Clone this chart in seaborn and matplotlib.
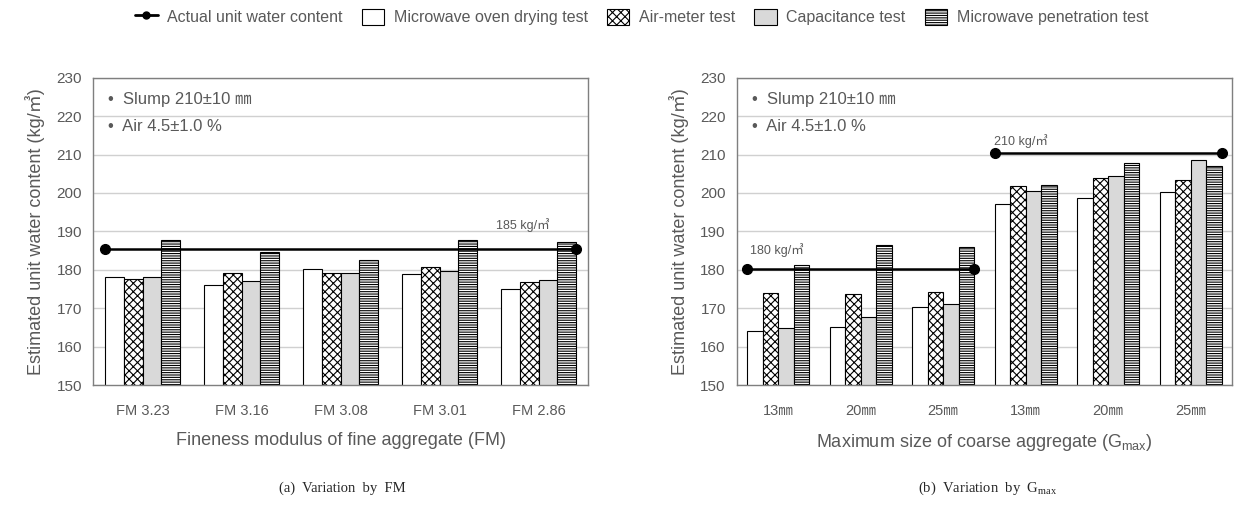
import numpy as np
import pandas as pd
import matplotlib
matplotlib.use('Agg')
import matplotlib.pyplot as plt
import seaborn as sns
from matplotlib.lines import Line2D
from matplotlib.patches import Patch

# Data
tests = ['Microwave oven drying test', 'Air-meter test', 'Capacitance test', 'Microwave penetration test']

fm_labels = ['FM 3.23', 'FM 3.16', 'FM 3.08', 'FM 3.01', 'FM 2.86']
fm_oven = [178.0, 176.0, 180.2, 179.0, 175.0]
fm_air = [177.5, 179.2, 179.2, 180.7, 176.7]
fm_cap = [178.2, 177.0, 179.2, 179.7, 177.3]
fm_pen = [187.7, 184.5, 182.5, 187.7, 187.2]
fm_actual = 185.5

g_labels = ['13㎜', '20㎜', '25㎜', '13㎜', '20㎜', '25㎜']
g_oven = [164.0, 165.2, 170.2, 197.0, 198.8, 200.3]
g_air = [174.0, 173.8, 174.3, 201.8, 203.8, 203.5]
g_cap = [164.8, 167.8, 171.0, 200.5, 204.3, 208.5]
g_pen = [181.3, 186.5, 186.0, 202.0, 207.8, 207.0]
g_actual_low = 180.3
g_actual_high = 210.3

colors = ['white', 'white', '#d9d9d9', 'white']
hatches = ['', 'xxxx', '', '-------']
grey = '#595959'
bar_w = 0.75

sns.set_style('white')
plt.rcParams['font.family'] = ['Liberation Sans', 'Noto Sans CJK KR', 'DejaVu Sans']
plt.rcParams['hatch.linewidth'] = 0.8


def long_table(labels, series):
    rows = []
    for i, lab in enumerate(labels):
        for t, vals in zip(tests, series):
            rows.append({'cat': f'c{i}', 'test': t, 'value': vals[i]})
    return pd.DataFrame(rows)


def draw(ax, labels, series):
    df = long_table(labels, series)
    sns.barplot(data=df, x='cat', y='value', hue='test', hue_order=tests,
                palette=colors, width=bar_w, gap=0, edgecolor='black',
                linewidth=0.8, legend=False, ax=ax, zorder=2)
    for cont, h in zip(ax.containers, hatches):
        for p in cont:
            p.set_hatch(h)
    ax.set_ylim(150, 230)
    ax.set_yticks(np.arange(150, 231, 10))
    ax.set_xticks(range(len(labels)))
    ax.set_xticklabels(labels)
    ax.set_xlim(-0.5, len(labels) - 0.5)
    ax.yaxis.grid(True, color='#d0d0d0', linewidth=1, zorder=0)
    ax.set_axisbelow(True)
    for s in ax.spines.values():
        s.set_color('#7f7f7f')
        s.set_linewidth(1)
    ax.tick_params(axis='x', length=0, pad=14, labelsize=10.5, labelcolor=grey)
    ax.tick_params(axis='y', length=0, pad=8, labelsize=11, labelcolor=grey)
    ax.set_ylabel('Estimated unit water content (kg/㎥)', fontsize=13, color=grey, labelpad=8)
    ax.text(0.03, 0.93, '•  Slump 210±10 ㎜', transform=ax.transAxes, fontsize=12,
            color=grey, va='center')
    ax.text(0.03, 0.84, '•  Air 4.5±1.0 %', transform=ax.transAxes, fontsize=12,
            color=grey, va='center')


fig = plt.figure(figsize=(12.34, 5.09), dpi=100)
ax1 = fig.add_axes([0.0754, 0.2436, 0.4011, 0.6037])
ax2 = fig.add_axes([0.5972, 0.2436, 0.4011, 0.6037])

draw(ax1, fm_labels, [fm_oven, fm_air, fm_cap, fm_pen])
half = bar_w / 2
ax1.plot([0 - half, len(fm_labels) - 1 + half], [fm_actual, fm_actual], '-o', color='black',
         lw=1.8, ms=7, zorder=4)
ax1.text(3.57, 191.6, '185 kg/㎥', fontsize=9, color=grey, va='center')
ax1.set_xlabel('Fineness modulus of fine aggregate (FM)', fontsize=13, color=grey, labelpad=10)

draw(ax2, g_labels, [g_oven, g_air, g_cap, g_pen])
ax2.plot([0 - half, 2 + half], [g_actual_low, g_actual_low], '-o', color='black', lw=1.8, ms=7, zorder=4)
ax2.plot([3 - half, 5 + half], [g_actual_high, g_actual_high], '-o', color='black', lw=1.8, ms=7, zorder=4)
ax2.text(-0.34, 185.1, '180 kg/㎥', fontsize=9, color=grey, va='center')
ax2.text(2.62, 213.6, '210 kg/㎥', fontsize=9, color=grey, va='center')
ax2.set_xlabel('Maximum size of coarse aggregate (G$_{\\mathregular{max}}$)', fontsize=13, color=grey,
               labelpad=10)

handles = [Line2D([0], [0], color='black', marker='o', lw=2, ms=5)]
for c, h in zip(colors, hatches):
    handles.append(Patch(facecolor=c, edgecolor='black', hatch=h, linewidth=0.8))
labels = ['Actual unit water content'] + tests
fig.legend(handles, labels, loc='center', bbox_to_anchor=(0.52, 0.967), ncol=5, frameon=False,
           fontsize=11.5, labelcolor=grey, handlelength=1.4, handleheight=1.2, columnspacing=1.2,
           handletextpad=0.6)

fig.text(0.277, 0.04, '(a)  Variation  by  FM', fontsize=10.5, family='Liberation Serif',
         ha='center', va='center')
fig.text(0.80, 0.04, '(b)  Variation  by  G$_{\\mathregular{max}}$', fontsize=10.5,
         family='Liberation Serif', ha='center', va='center')

fig.savefig('out.png', dpi=100)
